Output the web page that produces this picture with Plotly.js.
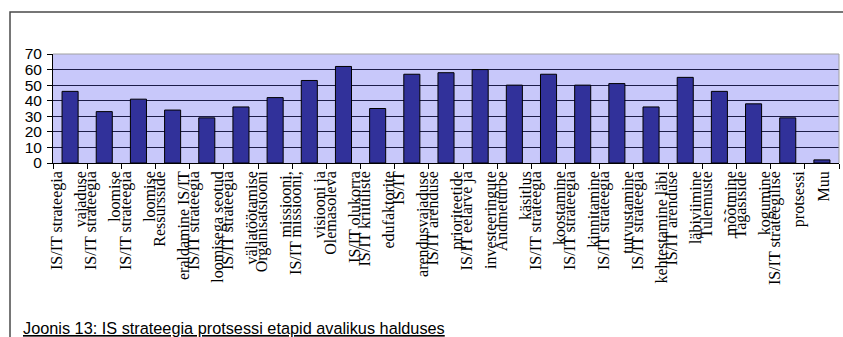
<!DOCTYPE html>
<html>
<head>
<meta charset="utf-8">
<script src="https://cdn.plot.ly/plotly-3.0.1.min.js"></script>
<style>
  html, body { margin: 0; padding: 0; background: #ffffff; }
  #chart { width: 843px; height: 337px; }
</style>
</head>
<body>
<div id="chart"></div>
<script>
// First and second line of every category label (labels are set on two lines)
const lineOne = [
  'IS/IT strateegia', 'IS/IT strateegia', 'IS/IT strateegia', 'Ressursside',
  'IS/IT strateegia', 'IS/IT strateegia', 'Organisatsiooni', 'IS/IT missiooni,',
  'Olemasoleva', 'IS/IT kriitiliste', 'IS/IT', 'IS/IT arenduse',
  'IS/IT eelarve ja', 'Andmeturbe', 'IS/IT strateegia', 'IS/IT strateegia',
  'IS/IT strateegia', 'IS/IT strateegia', 'IS/IT arenduse', 'Tulemuste',
  'Tagasiside', 'IS/IT strateegilise', 'Muu'
];
const lineTwo = [
  'vajaduse', 'loomise', 'loomise', 'eraldamine IS/IT',
  'loomisega seotud', 'väljatöötamise', 'missiooni,', 'visiooni ja',
  'IS/IT olukorra', 'edufaktorite', 'arendusvajaduse', 'prioriteetide',
  'investeeringute', 'käsitlus', 'koostamine', 'kinnitamine',
  'tutvustamine', 'kehtestamine läbi', 'läbiviimine', 'mõõtmine',
  'kogumine', 'protsessi', ''
];
// Share of respondents per process stage
const values = [46, 33, 41, 34, 29, 36, 42, 53, 62, 35, 57, 58, 60, 50, 57, 50, 51, 36, 55, 46, 38, 29, 2];
const yTicks = [0, 10, 20, 30, 40, 50, 60, 70];
const caption = 'Joonis 13: IS strateegia protsessi etapid avalikus halduses';

const idx = values.map((_, i) => i);
const bounds = values.map((_, i) => i - 0.5).concat([values.length - 0.5]);
const xRange = [-0.5, values.length - 0.5];

// two-line labels are split over two label axes; one-line labels sit centred
const twoLine = idx.filter(i => lineTwo[i] !== '');
const oneLine = idx.filter(i => lineTwo[i] === '');

const serif = 'Liberation Serif, Times New Roman, serif';
const sans = 'Liberation Sans, Arial, sans-serif';

const bars = {
  type: 'bar',
  x: idx,
  y: values,
  marker: { color: '#31319a', line: { color: '#000000', width: 1 } },
  hoverinfo: 'y'
};
const ghosts = ['x2', 'x3', 'x4'].map(ax => ({ type: 'scatter', x: [], y: [], xaxis: ax, showlegend: false }));

function labelAxis(vals, text, shift) {
  return {
    overlaying: 'x', anchor: 'y', side: 'bottom', type: 'linear',
    range: xRange, fixedrange: true,
    tickmode: 'array', tickvals: vals, ticktext: text,
    tickangle: -90, ticks: '', showgrid: false, zeroline: false, showline: false,
    ticklabelshift: shift, ticklabelstandoff: 4,
    tickfont: { family: serif, size: 16, color: '#000000' }
  };
}

const layout = {
  width: 843, height: 337,
  margin: { l: 53, r: 4, t: 54, b: 174 },
  paper_bgcolor: '#ffffff',
  plot_bgcolor: '#c8c8fa',
  showlegend: false,
  bargap: 0.53,
  xaxis: {
    type: 'linear', range: xRange, fixedrange: true,
    tickmode: 'array', tickvals: bounds, showticklabels: false,
    ticks: 'outside', ticklen: 5, tickcolor: '#000000', tickwidth: 1,
    showgrid: false, zeroline: false,
    showline: true, linecolor: '#000000', linewidth: 1
  },
  xaxis2: labelAxis(twoLine, twoLine.map(i => lineOne[i]), -13),
  xaxis3: labelAxis(twoLine, twoLine.map(i => lineTwo[i]), 11),
  xaxis4: labelAxis(oneLine, oneLine.map(i => lineOne[i]), 2),
  yaxis: {
    range: [0, 70], fixedrange: true,
    tickmode: 'array', tickvals: yTicks, ticktext: yTicks.map(String),
    ticks: 'outside', ticklen: 5, tickcolor: '#000000',
    showline: true, linecolor: '#000000', linewidth: 1,
    showgrid: true, gridcolor: '#1c1c48', gridwidth: 1.2,
    zeroline: false, ticklabelstandoff: 2,
    tickfont: { family: sans, size: 15.5, color: '#000000' }
  },
  shapes: [
    // plot-area border on the top and right sides
    { type: 'line', xref: 'paper', yref: 'paper', x0: 0, x1: 1, y0: 1, y1: 1,
      line: { color: '#a0a0a0', width: 1 } },
    { type: 'line', xref: 'paper', yref: 'paper', x0: 1, x1: 1, y0: 0, y1: 1,
      line: { color: '#a0a0a0', width: 1 } },
    // outer frame around the figure
    { type: 'rect', xref: 'paper', yref: 'paper',
      x0: -0.0547, x1: 1.2, y0: -2.0, y1: 1.385,
      line: { color: '#4a4a4a', width: 1.5 }, fillcolor: 'rgba(0,0,0,0)' }
  ],
  annotations: [
    { xref: 'paper', yref: 'paper', x: -0.0407, y: -1.51,
      xanchor: 'left', yanchor: 'middle', showarrow: false,
      text: '<u>' + caption + '</u>',
      font: { family: sans, size: 16.3, color: '#000000' } }
  ]
};

Plotly.newPlot('chart', [bars].concat(ghosts), layout, { displayModeBar: false, staticPlot: true });
</script>
</body>
</html>
